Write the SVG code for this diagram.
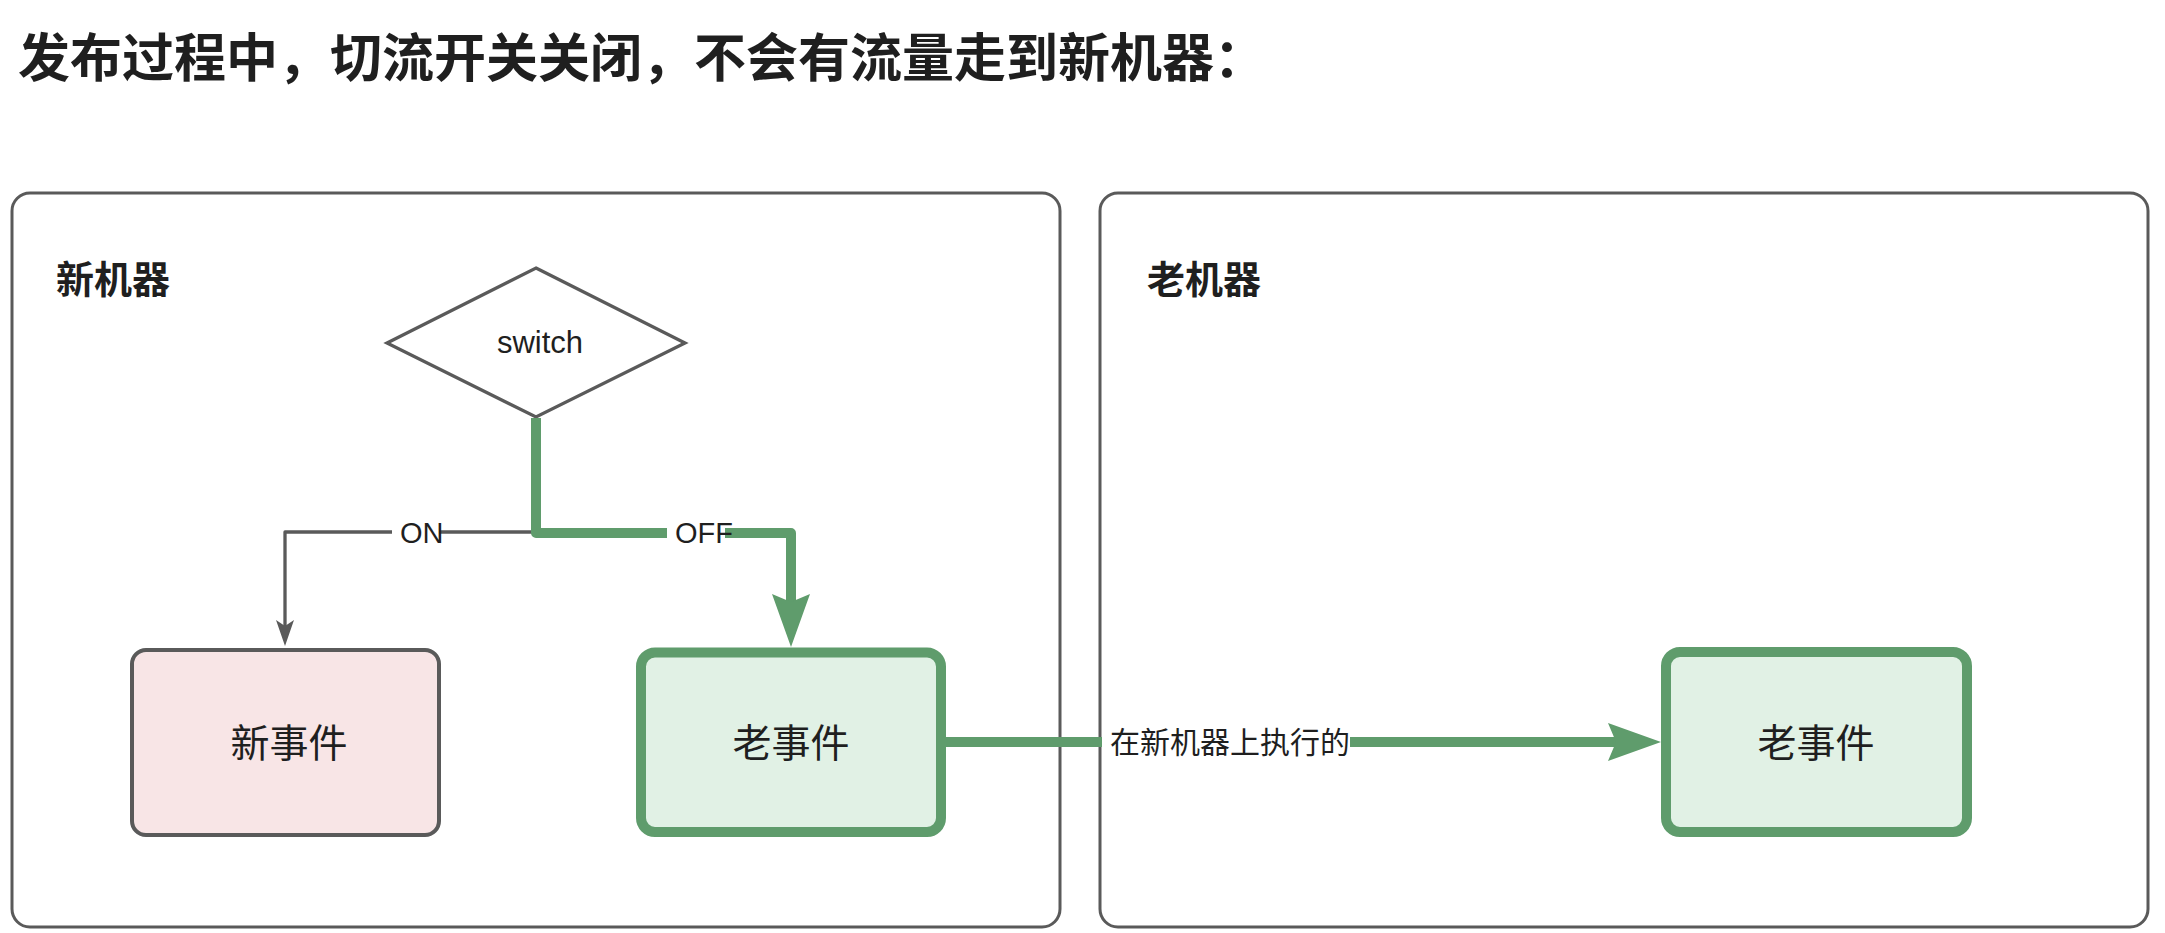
<svg xmlns="http://www.w3.org/2000/svg" width="2165" height="933" viewBox="0 0 2165 933">
<style>
.cjk{font-family:"Noto Sans CJK SC","Liberation Sans",sans-serif;fill:#1f1f1f}
.lat{font-family:"Liberation Sans","Noto Sans CJK SC",sans-serif;fill:#1f1f1f}
.container{fill:#ffffff;stroke:#5a5a5a;stroke-width:3}
.gbox{fill:#e1f1e5;stroke:#5f9c6c;stroke-width:10}
.pbox{fill:#f8e5e6;stroke:#5a5a5a;stroke-width:4}
.gline{fill:none;stroke:#5f9c6c;stroke-width:10;stroke-linejoin:round}
.kline{fill:none;stroke:#5a5a5a;stroke-width:3.3;stroke-linejoin:round}
.lblbg{fill:#ffffff}
</style>
<defs>
<marker id="arrGray" markerUnits="userSpaceOnUse" markerWidth="40" markerHeight="30" refX="6" refY="15" orient="auto" overflow="visible">
<path d="M0,6 L26,15 L0,24 L6,15 Z" fill="#5a5a5a"/>
</marker>
<marker id="arrGreen" markerUnits="userSpaceOnUse" markerWidth="60" markerHeight="44" refX="8" refY="22" orient="auto" overflow="visible">
<path d="M0,3 L53,22 L0,41 L8,22 Z" fill="#5f9c6c"/>
</marker>
</defs>
<rect width="2165" height="933" fill="#ffffff"/>
<text class="cjk" x="18" y="77" font-size="52" font-weight="bold">发布过程中，切流开关关闭，不会有流量走到新机器：</text>
<g id="container-new">
<rect class="container" x="12" y="193" width="1048" height="734" rx="18"/>
<text class="cjk" x="56" y="293" font-size="38" font-weight="bold">新机器</text>
</g>
<g id="container-old">
<rect class="container" x="1100" y="193" width="1048" height="734" rx="18"/>
<text class="cjk" x="1147" y="293" font-size="38" font-weight="bold">老机器</text>
</g>
<g id="switch">
<polygon points="536,268 685,343 536,417 387,343" fill="#ffffff" stroke="#5a5a5a" stroke-width="3.3"/>
<text class="lat" x="540" y="353" font-size="31" text-anchor="middle">switch</text>
</g>
<g id="new-event">
<rect class="pbox" x="132" y="650" width="307" height="185" rx="14"/>
<text class="cjk" x="289" y="757" font-size="39" text-anchor="middle">新事件</text>
</g>
<g id="old-event-new">
<rect class="gbox" x="641" y="652.5" width="300" height="179.5" rx="14"/>
<text class="cjk" x="791" y="757" font-size="39" text-anchor="middle">老事件</text>
</g>
<g id="old-event-old">
<rect class="gbox" x="1666" y="652" width="301" height="180" rx="14"/>
<text class="cjk" x="1816" y="757" font-size="39" text-anchor="middle">老事件</text>
</g>
<g id="connectors">
<path class="kline" d="M536,532 L285,532 L285,626" marker-end="url(#arrGray)"/>
<path class="gline" d="M536,418 L536,533 L791,533 L791,602" marker-end="url(#arrGreen)"/>
<path class="gline" d="M946,742 L1616,742" marker-end="url(#arrGreen)"/>
<rect class="lblbg" x="392" y="518" width="47" height="28"/>
<text class="lat" x="400" y="543" font-size="29">ON</text>
<rect class="lblbg" x="667" y="518" width="58" height="28"/>
<text class="lat" x="675" y="543" font-size="29">OFF</text>
<rect class="lblbg" x="1102" y="724" width="248" height="36"/>
<text class="cjk" x="1110" y="753" font-size="30">在新机器上执行的</text>
</g>
</svg>
